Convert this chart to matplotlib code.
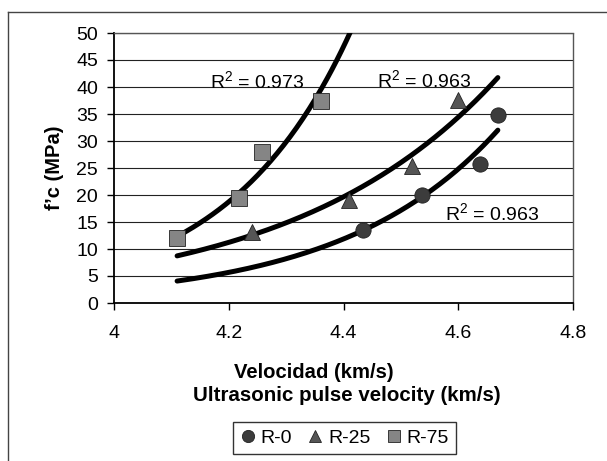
import numpy as np
import matplotlib.pyplot as plt
from matplotlib.lines import Line2D

plt.rcParams['font.family'] = ['Liberation Sans', 'DejaVu Sans']
plt.rcParams['mathtext.fontset'] = 'custom'
plt.rcParams['mathtext.rm'] = 'Liberation Sans'
plt.rcParams['mathtext.default'] = 'regular'

# f'c contra velocidad de pulso ultrasonico, por serie
vel_r0 = [4.434, 4.537, 4.638, 4.669]
fc_r0 = [13.5, 20.0, 25.7, 34.8]
vel_r25 = [4.24, 4.41, 4.519, 4.60]
fc_r25 = [13.2, 19.0, 25.4, 37.6]
vel_r75 = [4.11, 4.218, 4.258, 4.361]
fc_r75 = [12.0, 19.4, 28.0, 37.4]

nombres = ['R-0', 'R-25', 'R-75']
r2 = ['0.963', '0.963', '0.973']

xticks = [4, 4.2, 4.4, 4.6, 4.8]
yticks = list(range(0, 55, 5))

W, H = 607, 461
fig = plt.figure(figsize=(W / 100, H / 100), dpi=100)
ax = fig.add_axes([114 / W, 1 - 303 / H, (573 - 114) / W, (303 - 33) / H])

estilos = [
    dict(marker='o', color='#3c3c3c', ms=11),
    dict(marker='^', color='#555555', ms=11.5),
    dict(marker='s', color='#858585', ms=11),
]
datos = [(vel_r0, fc_r0), (vel_r25, fc_r25), (vel_r75, fc_r75)]

# linea de tendencia exponencial sobre todo el rango de velocidades
todas = vel_r0 + vel_r25 + vel_r75
xt = np.linspace(min(todas), max(todas), 200)
for (vx, fy), est in zip(datos, estilos):
    b, lna = np.polyfit(vx, np.log(fy), 1)
    ax.plot(xt, np.exp(lna + b * xt), color='black', lw=3.6, zorder=3,
            solid_capstyle='round')

handles = []
for (vx, fy), est, nom in zip(datos, estilos, nombres):
    h, = ax.plot(vx, fy, ls='none', marker=est['marker'], ms=est['ms'],
                 mfc=est['color'], mec='#222222', mew=0.6, zorder=4, label=nom)
    handles.append(h)

# etiquetas R^2
pos_r2 = [(4.577, 15.4), (4.458, 40.0), (4.167, 39.8)]
for (tx, ty), t in zip(pos_r2, r2):
    ax.text(tx, ty, 'R$^{2}$ = ' + t, fontsize=14, va='baseline', ha='left', zorder=5)

ax.set_xlim(4, 4.8)
ax.set_ylim(0, 50)
ax.set_xticks(xticks)
ax.set_xticklabels(['4', '4.2', '4.4', '4.6', '4.8'])
ax.set_yticks(yticks)
ax.tick_params(axis='both', direction='out', length=5, width=1, labelsize=14,
               color='black')
ax.tick_params(axis='x', pad=11)
ax.tick_params(axis='y', pad=6.5)

ax.yaxis.grid(True, color='#222222', lw=0.8)
ax.set_axisbelow(True)
for s in ['left', 'bottom']:
    ax.spines[s].set_color('black')
    ax.spines[s].set_linewidth(1.3)
for s in ['top', 'right']:
    ax.spines[s].set_color('#555555')
    ax.spines[s].set_linewidth(1.0)
    ax.spines[s].set_linestyle((0, (2, 1)))

fig.text(55 / W, 1 - 168 / H, 'f’c (MPa)', rotation=90, ha='center', va='center',
         fontsize=14.5, fontweight='bold')
fig.text(314 / W, 1 - 372 / H, 'Velocidad (km/s)', ha='center', va='center',
         fontsize=14.6, fontweight='bold')
fig.text(347 / W, 1 - 395 / H, 'Ultrasonic pulse velocity (km/s)', ha='center',
         va='center', fontsize=14.8, fontweight='bold')

leg = fig.legend(handles=handles, loc='center', bbox_to_anchor=(344.5 / W, 1 - 438 / H),
                 ncol=3, fontsize=14, frameon=True, fancybox=False,
                 markerscale=0.8, handlelength=0.8, handletextpad=0.25,
                 columnspacing=0.8, borderpad=0.35)
leg.get_frame().set_edgecolor('black')
leg.get_frame().set_linewidth(1.0)

# marco exterior del grafico
fig.add_artist(Line2D([8 / W, 8 / W], [1 - 12 / H, 0], color='#444444', lw=1.0))
fig.add_artist(Line2D([8 / W, 1], [1 - 12 / H, 1 - 12 / H], color='#444444', lw=1.0))

fig.savefig('out.png', dpi=100)
